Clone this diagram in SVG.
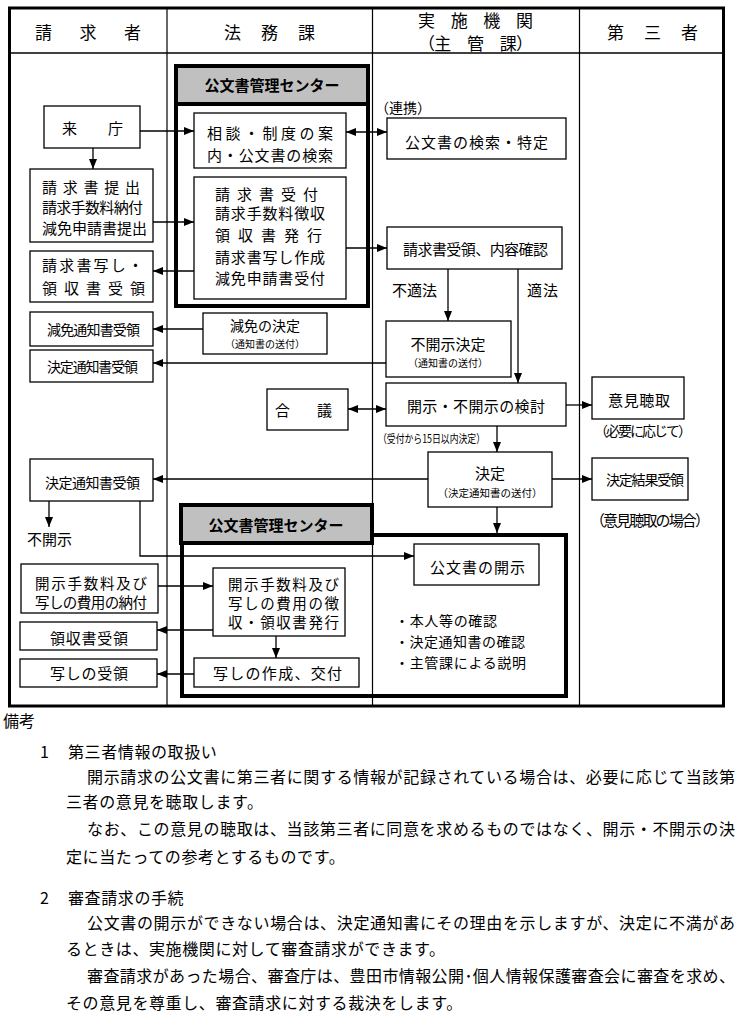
<svg xmlns="http://www.w3.org/2000/svg" width="741" height="1014" viewBox="0 0 741 1014">
<style>
text{font-family:"Noto Sans CJK JP","Noto Sans",sans-serif;fill:#000}
.n{fill:#fff;stroke:#000;stroke-width:1.3}
.g{fill:#c0c0c0;stroke:#000;stroke-width:4}
.t{font-size:15px}
.m{font-size:14.5px}
.s{font-size:14px}
.x{font-size:10px}
.h{font-size:17px}
.b{font-size:15px;font-weight:bold}
.r{font-size:16px}
.c{fill:none;stroke:#000;stroke-width:1.3}
.f{fill:none;stroke:#000;stroke-width:4}
</style>
<defs>
<marker id="ah" markerWidth="10" markerHeight="8" refX="10" refY="4" orient="auto-start-reverse" markerUnits="userSpaceOnUse"><path d="M0,0 L10,4 L0,8 z" fill="#000"/></marker>
</defs>
<rect width="741" height="1014" fill="#fff"/>
<g id="table">
<rect x="9.5" y="8" width="714" height="698" fill="none" stroke="#000" stroke-width="3"/>
<line x1="10" y1="53" x2="723" y2="53" stroke="#000" stroke-width="1.3"/>
<line x1="167" y1="8" x2="167" y2="706" stroke="#000" stroke-width="1.2"/>
<line x1="372.5" y1="8" x2="372.5" y2="706" stroke="#000" stroke-width="1.2"/>
<line x1="579.5" y1="8" x2="579.5" y2="706" stroke="#000" stroke-width="1.2"/>
<text class="h" x="35" y="38.5" textLength="106" lengthAdjust="spacing">請　求　者</text>
<text class="h" x="224" y="38.5" textLength="91" lengthAdjust="spacing">法　務　課</text>
<text class="h" x="418" y="26.5" textLength="115" lengthAdjust="spacing">実　施　機　関</text>
<text class="h" x="418" y="49.5" textLength="115" lengthAdjust="spacing">（主　管　課）</text>
<text class="h" x="607" y="38.5" textLength="91" lengthAdjust="spacing">第　三　者</text>
</g>
<g id="center-top">
<rect class="g" x="176" y="66" width="192" height="38"/>
<rect class="f" x="176" y="66" width="192" height="240"/>
<text class="b" x="272" y="90.5" text-anchor="middle">公文書管理センター</text>
</g>
<g id="center-bottom">
<rect class="g" x="181" y="505" width="191" height="38"/>
<path class="f" d="M182,543 V696 H566 V535 H372"/>
<text class="b" x="276" y="530.5" text-anchor="middle">公文書管理センター</text>
</g>
<g id="raicho"><rect class="n" x="44" y="106" width="96" height="42"/><text class="t" x="62" y="134" textLength="61" lengthAdjust="spacing">来　　庁</text></g>
<g id="seikyu-teishutsu"><rect class="n" x="30" y="169" width="123" height="73"/>
<text class="t" x="42" y="193" textLength="98" lengthAdjust="spacing">請　求　書　提　出</text>
<text class="t" x="42" y="213" textLength="101" lengthAdjust="spacing">請求手数料納付</text>
<text class="t" x="42" y="234" textLength="105" lengthAdjust="spacing">減免申請書提出</text></g>
<g id="utsushi-juryo"><rect class="n" x="30" y="251" width="123" height="51"/>
<text class="t" x="42" y="271" textLength="101" lengthAdjust="spacing">請求書写し・</text>
<text class="t" x="42" y="294" textLength="103" lengthAdjust="spacing">領　収　書　受　領</text></g>
<g id="genmen-tsuchi"><rect class="n" x="30" y="312" width="123" height="34"/><text class="s" x="47" y="334.5" textLength="93" lengthAdjust="spacing">減免通知書受領</text></g>
<g id="kettei-tsuchi1"><rect class="n" x="30" y="350" width="123" height="32"/><text class="s" x="47" y="372" textLength="91" lengthAdjust="spacing">決定通知書受領</text></g>
<g id="kettei-tsuchi2"><rect class="n" x="30" y="459" width="123" height="42"/><text class="s" x="45" y="488" textLength="95" lengthAdjust="spacing">決定通知書受領</text></g>
<g id="fukaiji-label"><text class="t" x="27" y="544.5">不開示</text></g>
<g id="kaiji-nofu"><rect class="n" x="21" y="564" width="137" height="49"/>
<text class="m" x="35" y="588.5" textLength="112" lengthAdjust="spacing">開示手数料及び</text>
<text class="m" x="35" y="607.5" textLength="112" lengthAdjust="spacing">写しの費用の納付</text></g>
<g id="ryoshu-juryo"><rect class="n" x="20" y="622" width="137" height="28"/><text class="t" x="50" y="644" textLength="78" lengthAdjust="spacing">領収書受領</text></g>
<g id="utsushi-no-juryo"><rect class="n" x="20" y="659" width="137" height="28"/><text class="t" x="50" y="678.5" textLength="78" lengthAdjust="spacing">写しの受領</text></g>
<g id="sodan"><rect class="n" x="194" y="113" width="152" height="55"/>
<text class="t" x="207" y="139" textLength="126" lengthAdjust="spacing">相談・制度の案</text>
<text class="t" x="207" y="161" textLength="126" lengthAdjust="spacing">内・公文書の検索</text></g>
<g id="uketsuke"><rect class="n" x="194" y="177" width="152" height="122"/>
<text class="t" x="215" y="200" textLength="103" lengthAdjust="spacing">請　求　書　受　付</text>
<text class="t" x="215" y="219" textLength="110" lengthAdjust="spacing">請求手数料徴収</text>
<text class="t" x="215" y="241" textLength="107" lengthAdjust="spacing">領　収　書　発　行</text>
<text class="t" x="215" y="263" textLength="110" lengthAdjust="spacing">請求書写し作成</text>
<text class="t" x="215" y="284" textLength="110" lengthAdjust="spacing">減免申請書受付</text></g>
<g id="genmen-kettei"><rect class="n" x="203" y="313" width="124" height="41"/>
<text class="s" x="265" y="331" text-anchor="middle">減免の決定</text>
<text class="x" x="265" y="348" text-anchor="middle">（通知書の送付）</text></g>
<g id="gogi"><rect class="n" x="267" y="389" width="81" height="41"/><text class="t" x="275" y="416" textLength="57" lengthAdjust="spacing">合　　議</text></g>
<g id="choshu"><rect class="n" x="213" y="568" width="132" height="68"/>
<text class="m" x="228" y="589.5" textLength="111" lengthAdjust="spacing">開示手数料及び</text>
<text class="m" x="228" y="608.5" textLength="111" lengthAdjust="spacing">写しの費用の徴</text>
<text class="m" x="228" y="627.5" textLength="111" lengthAdjust="spacing">収・領収書発行</text></g>
<g id="sakusei"><rect class="n" x="194" y="658" width="165" height="29"/><text class="t" x="213" y="678.5" textLength="129" lengthAdjust="spacing">写しの作成、交付</text></g>
<g id="renkei-label"><text class="s" x="375" y="113">（連携）</text></g>
<g id="kensaku"><rect class="n" x="387" y="118" width="179" height="41"/><text class="t" x="405" y="148" textLength="143" lengthAdjust="spacing">公文書の検索・特定</text></g>
<g id="juryo-kakunin"><rect class="n" x="387" y="227" width="175" height="42"/><text class="t" x="403" y="254.5" textLength="145" lengthAdjust="spacing">請求書受領、内容確認</text></g>
<g id="labels-tekiho"><text class="t" x="392" y="295.5" textLength="45" lengthAdjust="spacing">不適法</text><text class="t" x="527" y="295.5" textLength="31" lengthAdjust="spacing">適法</text></g>
<g id="fukaiji-kettei"><rect class="n" x="386" y="321" width="125" height="56"/>
<text class="t" x="448" y="349.5" text-anchor="middle">不開示決定</text>
<text class="x" x="448" y="367" text-anchor="middle">（通知書の送付）</text></g>
<g id="kento"><rect class="n" x="386" y="383" width="180" height="43"/><text class="t" x="407" y="411.5" textLength="138" lengthAdjust="spacing">開示・不開示の検討</text></g>
<g id="kigen-label"><text x="378" y="442.5" font-size="11.5" textLength="107" lengthAdjust="spacingAndGlyphs">（受付から15日以内決定）</text></g>
<g id="kettei"><rect class="n" x="428" y="452" width="124" height="55"/>
<text class="t" x="490" y="478.5" text-anchor="middle">決定</text>
<text x="490" y="497" font-size="10.5" text-anchor="middle">（決定通知書の送付）</text></g>
<g id="kaiji"><rect class="n" x="414" y="544" width="125" height="41"/><text class="t" x="430" y="572.5" textLength="95" lengthAdjust="spacing">公文書の開示</text></g>
<g id="kakunin-list">
<text class="s" x="395" y="625.5" textLength="102" lengthAdjust="spacing">・本人等の確認</text>
<text class="s" x="395" y="647" textLength="130" lengthAdjust="spacing">・決定通知書の確認</text>
<text class="s" x="395" y="667.5" textLength="131" lengthAdjust="spacing">・主管課による説明</text></g>
<g id="iken"><rect class="n" x="592" y="377" width="92" height="42"/><text class="t" x="608" y="405.5" textLength="62" lengthAdjust="spacing">意見聴取</text></g>
<g id="hitsuyo-label"><text class="s" x="594" y="435.5" textLength="98" lengthAdjust="spacing">（必要に応じて）</text></g>
<g id="kekka"><rect class="n" x="592" y="458" width="96" height="42"/><text class="s" x="606" y="484.5" textLength="78" lengthAdjust="spacing">決定結果受領</text></g>
<g id="baai-label"><text class="t" x="590" y="525.5" textLength="120" lengthAdjust="spacing">（意見聴取の場合）</text></g>
<g id="connectors">
<path class="c" marker-end="url(#ah)" d="M140,131 H194"/>
<path class="c" marker-end="url(#ah)" d="M93,148 V169"/>
<path class="c" marker-start="url(#ah)" marker-end="url(#ah)" d="M346,132 H387"/>
<path class="c" marker-end="url(#ah)" d="M153,222 H194"/>
<path class="c" marker-end="url(#ah)" d="M194,271 H153"/>
<path class="c" marker-end="url(#ah)" d="M346,248 H387"/>
<path class="c" marker-end="url(#ah)" d="M448,269 V321"/>
<path class="c" marker-end="url(#ah)" d="M518,269 V383"/>
<path class="c" marker-end="url(#ah)" d="M386,363 H153"/>
<path class="c" marker-end="url(#ah)" d="M203,329 H153"/>
<path class="c" marker-start="url(#ah)" marker-end="url(#ah)" d="M348,409 H386"/>
<path class="c" marker-end="url(#ah)" d="M566,405 H592"/>
<path class="c" marker-end="url(#ah)" d="M497,426 V452"/>
<path class="c" marker-end="url(#ah)" d="M428,479 H153"/>
<path class="c" marker-end="url(#ah)" d="M552,479 H592"/>
<path class="c" marker-end="url(#ah)" d="M497,507 V533"/>
<path class="c" marker-end="url(#ah)" d="M49,501 V527"/>
<path class="c" marker-end="url(#ah)" d="M140,501 V556 H414"/>
<path class="c" marker-end="url(#ah)" d="M158,586 H213"/>
<path class="c" marker-end="url(#ah)" d="M213,630 H157"/>
<path class="c" marker-end="url(#ah)" d="M276,636 V658"/>
<path class="c" marker-end="url(#ah)" d="M194,674 H157"/>
</g>
<g id="remarks">
<text class="r" x="3" y="727">備考</text>
<text class="r" x="40" y="758">1</text>
<text class="r" x="68" y="758" letter-spacing="0.6">第三者情報の取扱い</text>
<text class="r" x="87" y="783" textLength="648" lengthAdjust="spacing">開示請求の公文書に第三者に関する情報が記録されている場合は、必要に応じて当該第</text>
<text class="r" x="66" y="808" letter-spacing="0.6">三者の意見を聴取します。</text>
<text class="r" x="87" y="835" textLength="648" lengthAdjust="spacing">なお、この意見の聴取は、当該第三者に同意を求めるものではなく、開示・不開示の決</text>
<text class="r" x="66" y="863" letter-spacing="0.6">定に当たっての参考とするものです。</text>
<text class="r" x="40" y="904">2</text>
<text class="r" x="68" y="904" letter-spacing="0.6">審査請求の手続</text>
<text class="r" x="87" y="929" textLength="648" lengthAdjust="spacing">公文書の開示ができない場合は、決定通知書にその理由を示しますが、決定に不満があ</text>
<text class="r" x="66" y="955" letter-spacing="0.6">るときは、実施機関に対して審査請求ができます。</text>
<text class="r" x="87" y="982" textLength="648" lengthAdjust="spacing">審査請求があった場合、審査庁は、豊田市情報公開･個人情報保護審査会に審査を求め、</text>
<text class="r" x="66" y="1009" letter-spacing="0.6">その意見を尊重し、審査請求に対する裁決をします。</text>
</g>
</svg>
